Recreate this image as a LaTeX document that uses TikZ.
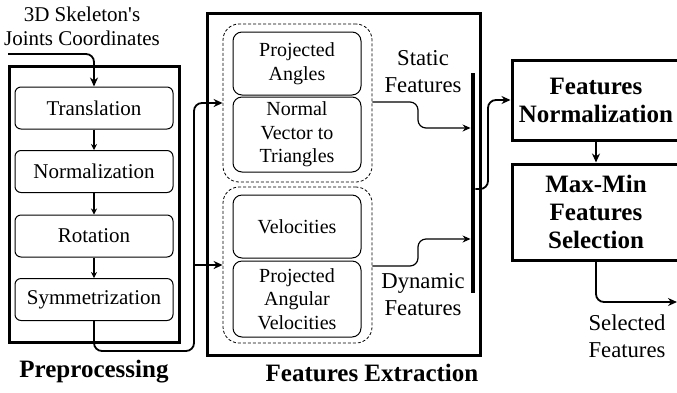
\documentclass[tikz,border=0pt]{standalone}
\usepackage{fontspec}
\setmainfont{Liberation Serif}
\newfontfamily\plainserif{Liberation Serif}
\usetikzlibrary{arrows.meta}
\begin{document}
\begin{tikzpicture}[x=1pt,y=-1pt,
  thickbox/.style={draw,line width=3pt,inner sep=0pt},
  stagebox/.style={draw,line width=1pt,rounded corners=6pt,minimum width=158pt,minimum height=42pt,inner sep=0pt,font=\fontsize{21}{24}\selectfont},
  febox/.style={draw,line width=1pt,rounded corners=9pt,minimum width=128pt,inner sep=0pt,align=center,font=\fontsize{20}{23.5}\selectfont},
  group/.style={draw,line width=0.8pt,rounded corners=16pt,inner sep=0pt,dash pattern=on 3pt off 2pt},
  bigarrow/.style={line width=1.8pt,-{Stealth[length=9pt,width=8pt]},rounded corners=8pt},
  smallarrow/.style={line width=1.1pt,-{Stealth[length=6pt,width=6pt]}},
  midarrow/.style={line width=1.2pt,-{Stealth[length=8pt,width=7pt]},rounded corners=8pt},
  lbl/.style={align=center,inner sep=0pt,font=\fontsize{22.7}{27}\selectfont},
  boldbox/.style={draw,line width=3pt,inner sep=0pt,minimum width=168pt,align=center,font=\fontsize{25}{28}\selectfont\bfseries},
  titlelbl/.style={inner sep=0pt,font=\fontsize{25}{28}\selectfont\bfseries},
]
\useasboundingbox (0,0) rectangle (677,392);

% input label
\node[align=center,inner sep=0pt,font=\plainserif\fontsize{21}{24}\selectfont] (inlbl) at (82,26) {3D Skeleton's\\Joints Coordinates};

% Preprocessing
\node[thickbox,minimum width=170pt,minimum height=276pt] (pre) at (94,204) {};
\node[stagebox] (tra) at (94,108) {Translation};
\node[stagebox] (nor) at (94,171.5) {Normalization};
\node[stagebox] (rot) at (94,236) {Rotation};
\node[stagebox] (sym) at (94,299.5) {Symmetrization};
\node[titlelbl] (pretitle) at (94,372) {Preprocessing};

\draw[smallarrow] (tra) -- (nor);
\draw[smallarrow] (nor) -- (rot);
\draw[smallarrow] (rot) -- (sym);

\coordinate (in) at (8,54);
\draw[bigarrow] (in) -| (tra.north);

% Features Extraction
\node[thickbox,minimum width=273pt,minimum height=342pt] (fe) at (343.5,184) {};
\node[group,minimum width=149pt,minimum height=158pt] (g1) at (297.5,103) {};
\node[group,minimum width=149pt,minimum height=156pt] (g2) at (297.5,265) {};
\node[febox,minimum height=63pt] (pa) at (297,63.5) {Projected\\Angles};
\node[febox,minimum height=75pt] (nv) at (297,134.5) {Normal\\Vector to\\Triangles};
\node[febox,minimum height=63pt] (ve) at (297,226.5) {Velocities};
\node[febox,minimum height=76pt] (pav) at (297,299) {Projected\\Angular\\Velocities};
\node[lbl] (stat) at (423,72) {Static\\Features};
\node[lbl] (dyn) at (423,295) {Dynamic\\Features};
\node[fill=black,minimum width=4.5pt,minimum height=220pt,inner sep=0pt] (bar) at (473,183) {};
\node[titlelbl] (fetitle) at (372,373) {Features Extraction};

\coordinate (j) at (194,351);
\draw[bigarrow] (sym.south) |- (j) |- (g1.west);
\draw[bigarrow] (j |- g2.west) -- (g2.west);

\coordinate (s1) at (418,102);
\coordinate (d1) at (418,266);
\draw[midarrow] (g1.east |- s1) -- (s1) |- (bar.west |- 0,128);
\draw[midarrow] (g2.east |- d1) -- (d1) |- (bar.west |- 0,239);

% Normalization / selection
\node[boldbox,minimum height=80pt] (fn) at (596,100) {Features\\Normalization};
\node[boldbox,minimum height=96pt] (mm) at (596,212) {Max-Min\\Features\\Selection};
\coordinate (b1) at (488,189);
\draw[bigarrow] (bar.east |- b1) -- (b1) |- (fn.west);
\draw[bigarrow] (fn) -- (mm);
\coordinate (out) at (677,302);
\draw[bigarrow] (mm.south) |- (out);
\node[lbl] (sel) at (627,336) {Selected\\Features};
\end{tikzpicture}
\end{document}
